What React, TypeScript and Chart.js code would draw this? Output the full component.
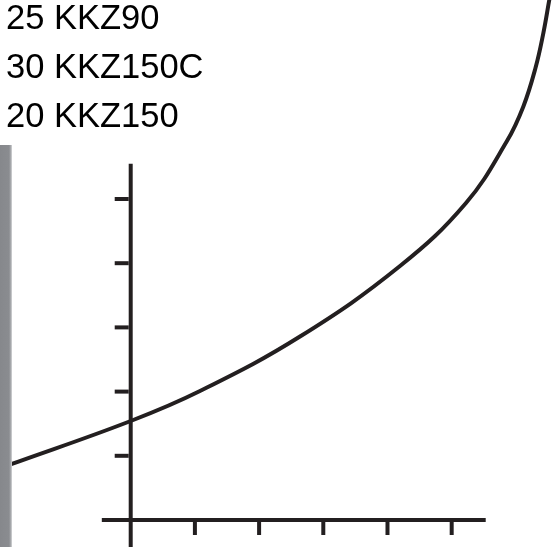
import React, { useEffect, useRef } from "react";
import { Chart, registerables } from "chart.js";

Chart.register(...registerables);

// Legend-like labels at the top
const labels = ["25 KKZ90", "30 KKZ150C", "20 KKZ150"];

// Curve (x, y in axis units)
const curveX = [-1.896, 0, 1.079, 2.637, 4.195, 5.223, 5.861, 6.115, 6.305, 6.427, 6.52, 6.562];
const curveY = [0.857, 1.542, 2.009, 2.858, 3.956, 4.938, 5.903, 6.438, 7.04, 7.581, 8.1, 8.333];

// Axis ticks and extents
const xTicks = [1, 2, 3, 4, 5];
const yTicks = [1, 2, 3, 4, 5];
const xAxisRange = [-0.45, 5.53];
const yAxisRange = [-0.5, 5.55];
const xView = [-2.036, 6.656];
const yView = [-0.4206, 8.0997];

const INK = "#231f20";

const axesPlugin = {
  id: "crossAxes",
  beforeDatasetsDraw(chart: any) {
    const { ctx, scales } = chart;
    const xs = scales.x;
    const ys = scales.y;
    const x0 = xs.getPixelForValue(0);
    const y0 = ys.getPixelForValue(0);
    ctx.save();
    ctx.strokeStyle = INK;
    ctx.lineWidth = 4;
    ctx.lineCap = "butt";
    ctx.beginPath();
    ctx.moveTo(x0, ys.getPixelForValue(yAxisRange[0]));
    ctx.lineTo(x0, ys.getPixelForValue(yAxisRange[1]));
    ctx.stroke();
    ctx.beginPath();
    ctx.moveTo(xs.getPixelForValue(xAxisRange[0]), y0);
    ctx.lineTo(xs.getPixelForValue(xAxisRange[1]), y0);
    ctx.stroke();
    yTicks.forEach((v) => {
      const py = ys.getPixelForValue(v);
      ctx.beginPath();
      ctx.moveTo(x0 - 2, py);
      ctx.lineTo(x0 - 16, py);
      ctx.stroke();
    });
    xTicks.forEach((v) => {
      const px = xs.getPixelForValue(v);
      ctx.beginPath();
      ctx.moveTo(px, y0 + 2);
      ctx.lineTo(px, y0 + 15);
      ctx.stroke();
    });
    ctx.restore();
  },
};

export default function App() {
  const ref = useRef<HTMLCanvasElement | null>(null);

  useEffect(() => {
    if (!ref.current) return;
    const chart = new Chart(ref.current, {
      type: "scatter",
      data: {
        datasets: [
          {
            data: curveX.map((x, i) => ({ x, y: curveY[i] })),
            showLine: true,
            borderColor: INK,
            borderWidth: 4,
            pointRadius: 0,
            tension: 0.4,
            fill: false,
          } as any,
        ],
      },
      options: {
        animation: false,
        responsive: true,
        maintainAspectRatio: false,
        layout: { padding: 0 },
        plugins: { legend: { display: false }, tooltip: { enabled: false }, title: { display: false } },
        events: [],
        scales: {
          x: { type: "linear", display: false, min: xView[0], max: xView[1] },
          y: { type: "linear", display: false, min: yView[0], max: yView[1] },
        },
      },
      plugins: [axesPlugin],
    });
    return () => chart.destroy();
  }, []);

  const fontSize = 34.5;
  const lineH = 48;
  const baseOffset = (lineH - 1.117 * fontSize) / 2 + 0.905 * fontSize;
  const textStyle: React.CSSProperties = {
    position: "absolute",
    left: 6,
    fontFamily: '"Liberation Sans", Arial, sans-serif',
    fontSize,
    lineHeight: lineH + "px",
    color: "#000",
    whiteSpace: "nowrap",
  };
  const baselines = [29.3, 78.3, 126.5];

  return (
    <div style={{ position: "absolute", left: 0, top: 0, width: 558, height: 547, background: "#fff", overflow: "hidden" }}>
      <div style={{ position: "absolute", left: 0, top: 0, width: 558, height: 547 }}>
        <canvas ref={ref} />
      </div>
      <div
        style={{
          position: "absolute",
          left: 0,
          top: 145,
          width: 12,
          height: 402,
          background: "linear-gradient(to right, #86888c 0%, #8a8c90 75%, #a9abae 90%, #d8d9db 100%)",
        }}
      />
      {labels.map((t, i) => (
        <div key={t} style={{ ...textStyle, top: baselines[i] - baseOffset }}>
          {t}
        </div>
      ))}
    </div>
  );
}
